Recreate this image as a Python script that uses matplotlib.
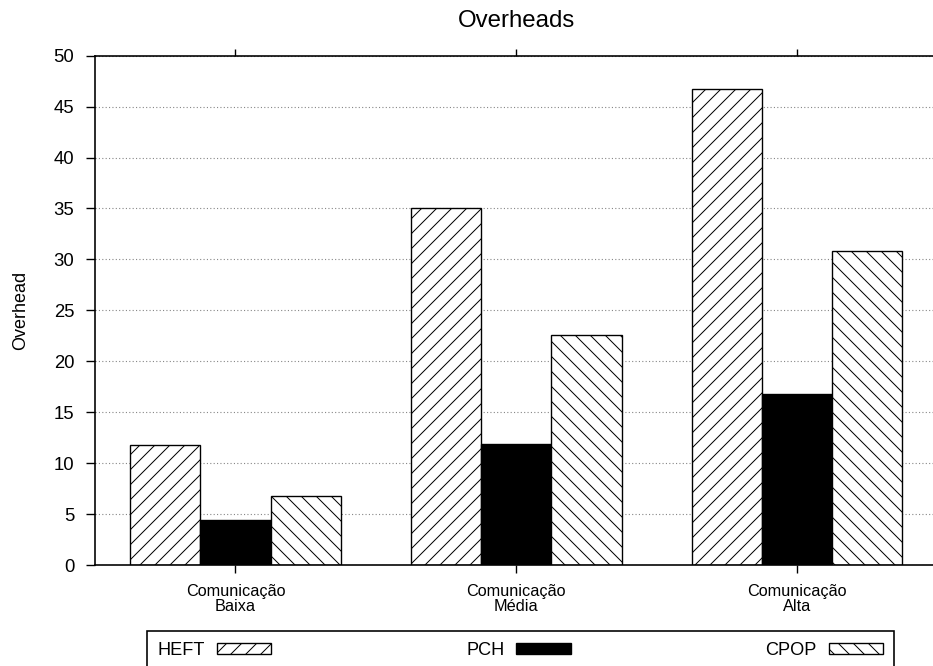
import numpy as np
import matplotlib
matplotlib.use('Agg')
import matplotlib.pyplot as plt

# 数据
categories = ['Comunicação\nBaixa', 'Comunicação\nMédia', 'Comunicação\nAlta']
series_names = ['HEFT', 'PCH', 'CPOP']
heft = [11.8, 35.0, 46.7]
pch = [4.4, 11.9, 16.8]
cpop = [6.8, 22.6, 30.8]

DPI = 90
W, H = 933, 666

plt.rcParams.update({
    'font.family': ['Liberation Sans', 'DejaVu Sans'],
    'hatch.linewidth': 0.8,
    'hatch.color': 'black',
    'axes.linewidth': 1.3,
})

fig = plt.figure(figsize=(W / DPI, H / DPI), dpi=DPI)
# 轴框位置（像素换算）
ax = fig.add_axes([95 / W, (H - 565) / H, 842.5 / W, 509.3 / H])

x = np.arange(len(categories))
bw = 0.25
styles = [
    dict(facecolor='white', hatch='//'),
    dict(facecolor='black', hatch=None),
    dict(facecolor='white', hatch='\\\\'),
]
for i, (name, vals, st) in enumerate(zip(series_names, [heft, pch, cpop], styles)):
    ax.bar(x + (i - 1) * bw, vals, bw, label=name, edgecolor='black',
           linewidth=1.1, **st)

ax.set_xlim(-0.5, 2.5)
ax.set_ylim(0, 50)
ax.set_yticks(np.arange(0, 51, 5))
ax.set_xticks(x)
ax.set_xticklabels(categories, fontsize=13, linespacing=1.05)
ax.tick_params(axis='y', labelsize=14.8, length=7, width=1.1, pad=9.5,
               direction='out', right=False)
ax.tick_params(axis='x', length=6, width=1.1, pad=9, direction='out', top=True)

ax.yaxis.grid(True, color='#888888', linestyle=(0, (1, 2)), linewidth=0.9)
ax.set_axisbelow(True)
ax.spines['right'].set_visible(False)

ax.set_title('Overheads', fontsize=19.2, y=1.0, pad=23)
ax.set_ylabel('Overhead', fontsize=14.4)
ax.yaxis.set_label_coords((29 - 95) / 842.5, 0.5)

leg = fig.legend(loc='upper left', bbox_to_anchor=(147 / W, (H - 631) / H, (894 - 147) / W, 0),
                 mode='expand', ncol=3, markerfirst=False, fontsize=14.5,
                 handlelength=3.0, handleheight=0.5, handletextpad=0.65,
                 borderpad=0.6, borderaxespad=0, fancybox=False, framealpha=1)
leg.get_frame().set_edgecolor('black')
leg.get_frame().set_linewidth(1.3)

fig.savefig('out.png', dpi=DPI)
plt.close(fig)
